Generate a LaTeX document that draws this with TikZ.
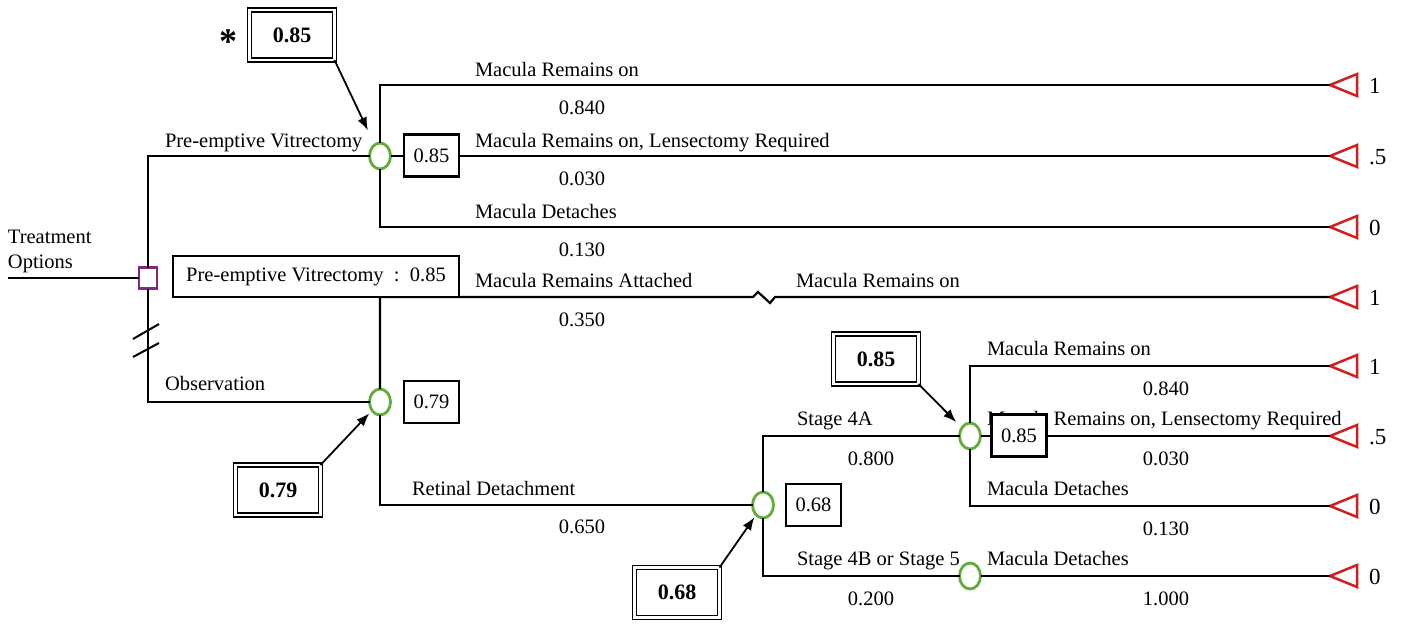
\documentclass[tikz,border=0pt]{standalone}
\usepackage{fontspec}
\setmainfont{Liberation Serif}
\usetikzlibrary{shapes.geometric,arrows.meta}

\definecolor{chancegreen}{RGB}{98,172,56}
\definecolor{decpurple}{RGB}{130,40,130}
\definecolor{termred}{RGB}{210,30,30}

\tikzset{
  branch/.style={draw=black,line width=2.2pt},
  chance/.style={ellipse,draw=chancegreen,line width=2.8pt,fill=white,
    minimum width=21pt,minimum height=26pt},
  decision/.style={rectangle,draw=decpurple,line width=2.4pt,fill=white,
    minimum width=18pt,minimum height=21pt},
  termtri/.style={draw=termred,line width=2.5pt,line join=miter},
  valbox/.style={rectangle,draw=black,line width=2.2pt,fill=white,
    minimum width=55pt,minimum height=42pt},
  rollbox/.style={rectangle,draw=black,line width=1.4pt,double,
    double distance=2.5pt,fill=white,minimum width=85pt,minimum height=50pt,
    font=\fontsize{22}{26}\selectfont\bfseries},
  lbl/.style={anchor=base west},
  prob/.style={anchor=base},
  ptr/.style={line width=1.8pt,-{Latex[length=13pt,width=10pt]}}
}

\begin{document}
\begin{tikzpicture}[x=1pt,y=-1pt,inner sep=0pt,outer sep=0pt,
  every node/.style={font=\fontsize{20.5}{25}\selectfont}]
\useasboundingbox (0,0) rectangle (1403,624);

% terminal nodes
\foreach \ty/\tv [count=\i] in {85/1,156/.5,227/0,297/1,366/1,436/.5,506/0,576/0} {
  \coordinate (t\i) at (1330,\ty);
  \draw[termtri] (t\i) -- ++(27,-11) -- ++(0,22) -- cycle;
  \node[anchor=west,font=\fontsize{23}{26}\selectfont] (v\i) at (1369,\ty+1) {\tv};
}

% decision and chance nodes
\coordinate (root) at (8,278);
\node[decision] (dec) at (148,278) {};
\node[chance] (c1) at (380,156) {};
\node[chance] (c2) at (380,402) {};
\node[chance] (c3) at (763,505) {};
\node[chance] (c4) at (970,436) {};
\node[chance] (c5) at (970,576) {};

\coordinate (brk1) at (753,297);
\coordinate (brk2) at (758,292);
\coordinate (brk3) at (770,303);
\coordinate (brk4) at (775,297);

% branches
\draw[branch] (root) -- (dec.west);
\draw[branch] (dec.north) |- (c1.west);
\draw[branch] (dec.south) |- (c2.west);
\draw[branch] (c1.north) |- (t1);
\draw[branch] (c1.east) -- (t2);
\draw[branch] (c1.south) |- (t3);
\draw[branch] (c2.north) |- (brk1) -- (brk2) -- (brk3) -- (brk4) -- (t4);
\draw[branch] (c2.south) |- (c3.west);
\draw[branch] (c3.north) |- (c4.west);
\draw[branch] (c3.south) |- (c5.west);
\draw[branch] (c4.north) |- (t5);
\draw[branch] (c4.east) -- (t6);
\draw[branch] (c4.south) |- (t7);
\draw[branch] (c5.east) -- (t8);

% cut marks
\coordinate (cut) at (146,341);
\draw[line width=2pt] ([shift={(-13,-2)}]cut) -- ([shift={(13,-17)}]cut);
\draw[line width=2pt] ([shift={(-13,16)}]cut) -- ([shift={(13,2)}]cut);

% branch labels
\node[anchor=west,align=left] (treat) at (8,251) {Treatment\\Options};
\node[lbl] (l0) at (165,147) {Pre-emptive Vitrectomy};
\node[lbl] (l00) at (165,390) {Observation};
\node[lbl] (l1) at (475,76) {Macula Remains on};
\node[prob] (p1) at (582,114) {0.840};
\node[lbl] (l2) at (475,147) {Macula Remains on, Lensectomy Required};
\node[prob] (p2) at (582,185) {0.030};
\node[lbl] (l3) at (475,218) {Macula Detaches};
\node[prob] (p3) at (582,256) {0.130};
\node[lbl] (l4) at (475,287) {Macula Remains Attached};
\node[prob] (p4) at (582,326) {0.350};
\node[lbl] (l4b) at (796,287) {Macula Remains on};
\node[lbl] (l5) at (412,495) {Retinal Detachment};
\node[prob] (p5) at (582,533) {0.650};
\node[lbl] (l6) at (797,425) {Stage 4A};
\node[prob] (p6) at (871,465) {0.800};
\node[lbl] (l7) at (797,565) {Stage 4B or Stage 5};
\node[prob] (p7) at (871,605) {0.200};
\node[lbl] (l8) at (987,355) {Macula Remains on};
\node[prob] (p8) at (1166,395) {0.840};
\node[lbl] (l9) at (987,425) {Macula Remains on, Lensectomy Required};
\node[prob] (p9) at (1166,465) {0.030};
\node[lbl] (l10) at (987,495) {Macula Detaches};
\node[prob] (p10) at (1166,535) {0.130};
\node[lbl] (l11) at (987,565) {Macula Detaches};
\node[prob] (p11) at (1166,605) {1.000};

% expected values
\node[rectangle,draw=black,line width=2.2pt,fill=white,minimum width=286pt,
  minimum height=41pt] (pvbox) at (316,276.5)
  {\raisebox{-3pt}{Pre-emptive Vitrectomy\ \ :\ \ 0.85}};
\node[valbox] (b1) at (431.5,155.5) {0.85};
\node[valbox] (b2) at (431.5,402) {0.79};
\node[valbox] (b3) at (813.5,505) {0.68};
\node[valbox] (b4) at (1019,435.5) {0.85};

% rolled back values
\node[rollbox] (r1) at (292,35) {0.85};
\node[rollbox] (r2) at (278,490) {0.79};
\node[rollbox] (r3) at (677,592.5) {0.68};
\node[rollbox] (r4) at (876,359) {0.85};
\node[font=\fontsize{36}{36}\selectfont\bfseries] (star) at (228,42) {*};

\draw[ptr,shorten >=16pt] (r1.south east) -- (c1);
\draw[ptr,shorten >=4pt] (r2.north east) -- (c2);
\draw[ptr,shorten >=3pt] (r3.north east) -- (c3);
\draw[ptr,shorten >=8pt] (r4.south east) -- (c4);
\end{tikzpicture}
\end{document}
